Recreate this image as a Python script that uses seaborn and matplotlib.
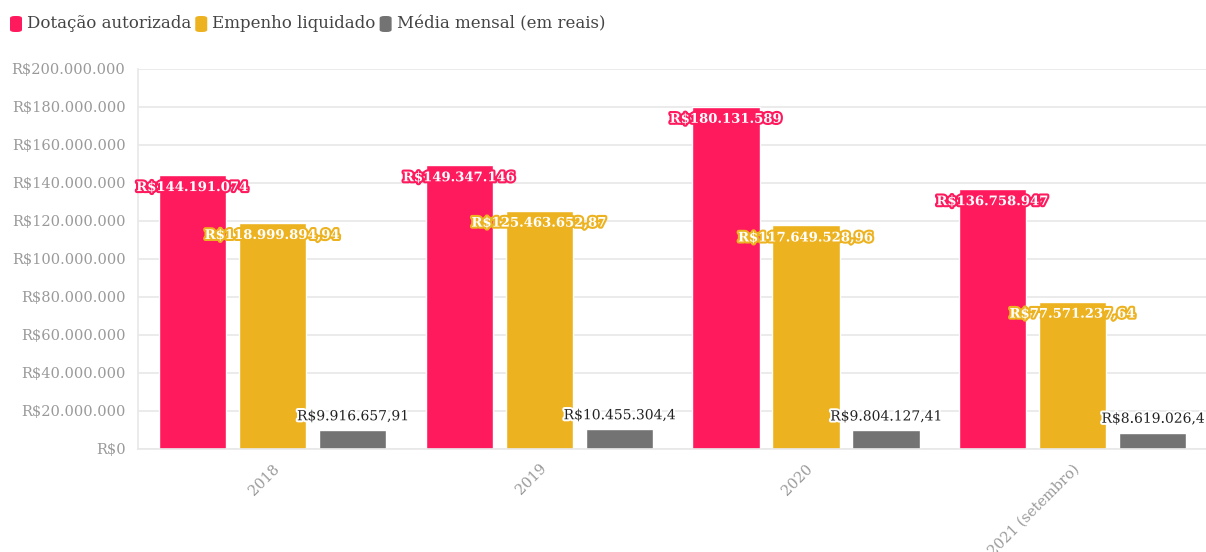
import matplotlib
matplotlib.use("Agg")
import matplotlib.pyplot as plt
import matplotlib.patheffects as pe
from matplotlib.patches import FancyBboxPatch
from matplotlib.ticker import FuncFormatter, MultipleLocator
import numpy as np
import pandas as pd
import seaborn as sns

# ---- data ----
anos = ["2018", "2019", "2020", "2021 (setembro)"]
dotacao = [144191074, 149347146, 180131589, 136758947]
empenho = [118999894.94, 125463652.87, 117649528.96, 77571237.64]
media = [9916657.91, 10455304.4, 9804127.41, 8619026.4]
series = ["Dotação autorizada", "Empenho liquidado", "Média mensal (em reais)"]
cores = ["#ff1a5e", "#edb220", "#737373"]

df = pd.DataFrame({
    "ano": anos * 3,
    "serie": [series[0]] * 4 + [series[1]] * 4 + [series[2]] * 4,
    "valor": dotacao + empenho + media,
})


def brl(v, decimals=2):
    s = f"{v:,.{decimals}f}"
    inteiro, _, dec = s.partition(".")
    inteiro = inteiro.replace(",", ".")
    dec = dec.rstrip("0")
    return "R$" + inteiro + ("," + dec if dec else "")


sns.set_theme(style="white")
plt.rcParams["font.family"] = ["DejaVu Serif"]

fig = plt.figure(figsize=(12.06, 5.52), dpi=100)
ax = fig.add_axes([0.1144, 0.1866, 0.8856, 0.6884])

sns.barplot(data=df, x="ano", y="valor", hue="serie", palette=cores,
            width=0.9, gap=0.155, saturation=1, legend=False, ax=ax,
            errorbar=None)

ax.set_ylim(0, 200_000_000)
ax.set_xlim(-0.505, 3.5)
ax.yaxis.set_major_locator(MultipleLocator(20_000_000))
ax.yaxis.set_major_formatter(FuncFormatter(lambda v, p: brl(v, 0)))
ax.set_xlabel("")
ax.set_ylabel("")
ax.grid(axis="y", color="#e8e8e8", linewidth=1.2)
ax.set_axisbelow(True)
for side in ["top", "right"]:
    ax.spines[side].set_visible(False)
for side in ["left", "bottom"]:
    ax.spines[side].set_color("#e8e8e8")
    ax.spines[side].set_linewidth(1.2)
ax.tick_params(axis="y", length=6, width=1.2, color="#e8e8e8",
               labelsize=10.5, labelcolor="#9a9a9a", pad=3)
ax.tick_params(axis="x", length=6, width=1.2, color="#e8e8e8",
               labelsize=10.5, labelcolor="#9a9a9a", pad=3)
for lab in ax.get_xticklabels():
    lab.set_rotation(45)
    lab.set_ha("right")
    lab.set_rotation_mode("anchor")

# value labels
for ci, (cont, vals) in enumerate(zip(ax.containers, [dotacao, empenho, media])):
    for bar, v in zip(cont, vals):
        xc = bar.get_x() + bar.get_width() / 2
        if ci < 2:
            txt = brl(v, 0) if ci == 0 else brl(v)
            ax.annotate(txt, (xc, v), xytext=(0, -9), textcoords="offset points",
                        ha="center", va="center", fontsize=9.5, fontweight="bold",
                        color="white", annotation_clip=False,
                        path_effects=[pe.withStroke(linewidth=3, foreground=cores[ci])])
        else:
            ax.annotate(brl(v), (xc, v), xytext=(0, 10), textcoords="offset points",
                        ha="center", va="center", fontsize=10,
                        color="#222222", annotation_clip=False,
                        path_effects=[pe.withStroke(linewidth=3, foreground="white")])

# legend row
W, H = fig.get_size_inches() * fig.dpi
x = 10
for nome, cor in zip(series, cores):
    fig.patches.append(FancyBboxPatch((x / W, (H - 32) / H), 12 / W, 16 / H,
                                      boxstyle="round,pad=0,rounding_size=0.004",
                                      transform=fig.transFigure, facecolor=cor,
                                      edgecolor="none"))
    t = fig.text((x + 17) / W, (H - 24) / H, nome, fontsize=12, color="#444444",
                 va="center", ha="left")
    fig.canvas.draw()
    bb = t.get_window_extent()
    x = bb.x1 + 4

fig.savefig("out.png", dpi=100)
